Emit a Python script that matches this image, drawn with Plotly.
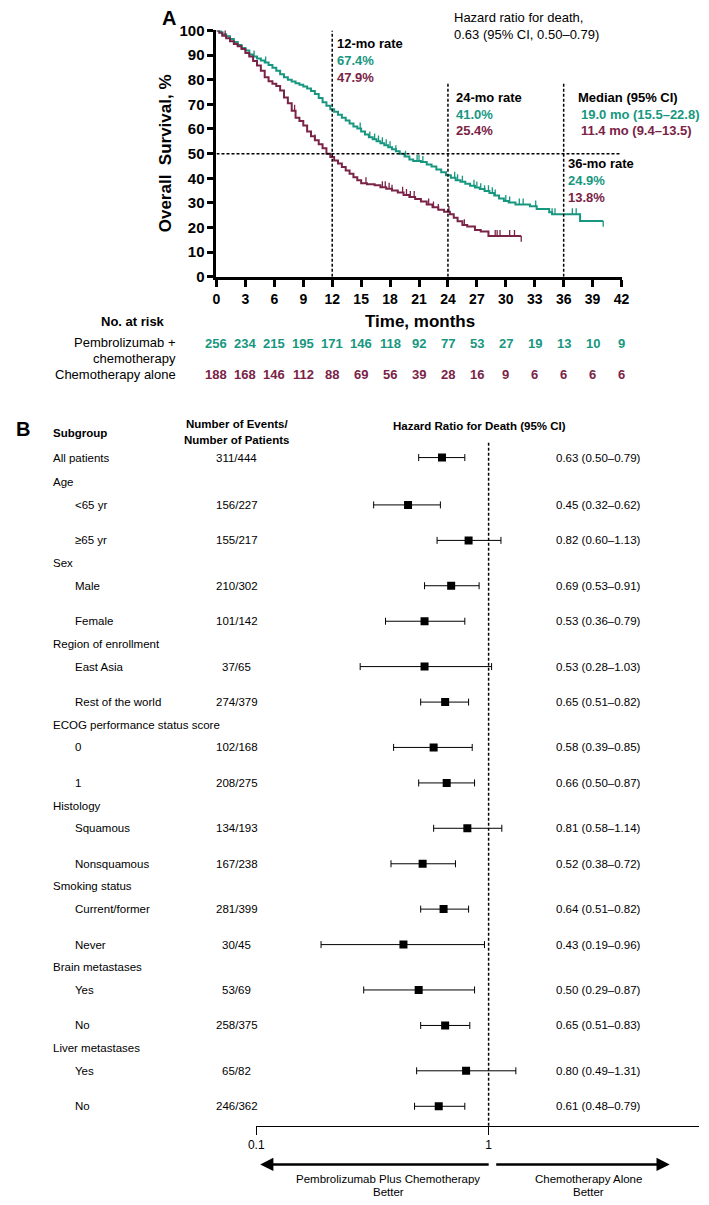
import bisect
import plotly.graph_objects as go

# ---------------- data: Kaplan-Meier (panel A) ----------------
pembro_t = [0, 0.3, 0.6, 1.0, 1.4, 1.8, 2.2, 2.6, 3.0, 3.4, 3.8, 4.2, 4.6, 5.0, 5.4, 5.8, 6.2, 6.6, 7.0, 7.4,
            7.8, 8.2, 8.6, 9.0, 9.4, 9.8, 10.2, 10.6, 11.0, 11.4, 11.8, 12.2, 12.6, 13.0, 13.4, 13.8, 14.2, 14.6, 15.0, 15.4,
            15.8, 16.2, 16.6, 17.0, 17.4, 17.8, 18.2, 18.6, 19.0, 19.5, 20.0, 20.4, 21.2, 21.8, 22.3, 22.8, 23.3, 23.8, 24.3, 24.8,
            25.3, 25.8, 26.3, 26.8, 27.3, 27.8, 28.3, 28.8, 29.3, 29.8, 30.3, 31.0, 32.5, 33.2, 34.5, 34.8, 37.7, 40.1]
pembro_s = [100, 99.2, 98.4, 97.6, 96.5, 95.3, 94.1, 92.9, 91.8, 90.2, 89.4, 88.6, 87.8, 87.0, 86.0, 84.8, 83.6, 82.2, 81.0, 80.0,
            79.3, 78.6, 77.9, 77.2, 76.4, 75.4, 74.2, 72.6, 70.8, 69.4, 68.0, 67.0, 65.8, 64.6, 63.4, 62.2, 61.0, 60.2, 59.0, 57.8,
            56.6, 55.8, 55.0, 54.2, 53.4, 52.6, 51.8, 51.0, 50.0, 48.8, 47.6, 47.0, 46.6, 45.6, 44.8, 43.6, 42.4, 41.2, 40.2, 39.2,
            38.6, 37.8, 37.0, 36.3, 35.6, 34.8, 34.0, 33.0, 31.8, 30.8, 30.2, 29.4, 28.6, 27.5, 26.2, 25.4, 22.7, 22.7]
chemo_t = [0, 0.3, 0.6, 1.0, 1.4, 1.8, 2.2, 2.6, 3.0, 3.4, 3.8, 4.2, 4.6, 5.0, 5.4, 5.8, 6.2, 6.6, 7.0, 7.4,
           7.8, 8.2, 8.6, 9.0, 9.4, 9.8, 10.2, 10.6, 11.0, 11.4, 11.8, 12.2, 12.6, 13.0, 13.4, 13.8, 14.2, 14.6, 15.0, 15.6,
           16.4, 17.0, 17.6, 18.2, 18.8, 19.4, 20.0, 20.6, 21.2, 21.8, 22.4, 23.0, 23.6, 24.2, 24.6, 25.0, 25.5, 26.0, 26.8, 27.4,
           28.2, 31.6]
chemo_s = [100, 99.0, 97.8, 96.8, 95.6, 94.5, 93.6, 92.4, 90.8, 89.4, 87.6, 85.8, 83.6, 81.0, 79.4, 78.4, 77.4, 75.6, 72.8, 70.4,
           67.4, 64.6, 63.2, 61.4, 59.0, 57.0, 55.4, 53.8, 52.2, 50.0, 48.6, 47.2, 46.0, 44.6, 43.2, 41.8, 40.4, 39.2, 38.0, 37.6,
           37.2, 36.4, 35.8, 35.0, 34.2, 33.2, 32.4, 31.6, 30.6, 29.4, 28.2, 27.2, 26.4, 25.4, 24.0, 22.6, 21.0, 20.4, 19.0, 18.4,
           16.6, 16.6]
pembro_censor = [0.5, 3.9, 5.1, 14.9, 15.9, 16.4, 16.8, 17.2, 17.6, 18.0, 18.6, 19.6, 20.8, 21.0, 21.4, 24.7, 25.0, 25.5,
                 26.7, 27.0, 27.4, 27.8, 28.2, 28.6, 28.9, 30.0, 30.4, 31.4, 31.8, 33.1, 34.8, 35.1, 36.9, 37.3]
chemo_censor = [0.9, 8.1, 10.2, 15.5, 17.2, 17.5, 17.9, 18.2, 19.3, 19.7, 20.1, 20.5, 22.0, 22.5, 23.0, 24.1, 25.7,
                28.9, 29.1, 29.4, 30.4, 30.9]

risk_months = [0, 3, 6, 9, 12, 15, 18, 21, 24, 27, 30, 33, 36, 39, 42]
risk_pembro = [256, 234, 215, 195, 171, 146, 118, 92, 77, 53, 27, 19, 13, 10, 9]
risk_chemo = [188, 168, 146, 112, 88, 69, 56, 39, 28, 16, 9, 6, 6, 6, 6]

milestones = [12, 24, 36]
pembro_rates = ["67.4%", "41.0%", "24.9%"]
chemo_rates = ["47.9%", "25.4%", "13.8%"]
median_pembro = "19.0 mo (15.5–22.8)"
median_chemo = "11.4 mo (9.4–13.5)"

# ---------------- data: forest plot (panel B) ----------------
sub_labels = ["All patients", "Age", "<65 yr", "≥65 yr", "Sex", "Male", "Female", "Region of enrollment",
              "East Asia", "Rest of the world", "ECOG performance status score", "0", "1", "Histology",
              "Squamous", "Nonsquamous", "Smoking status", "Current/former", "Never", "Brain metastases",
              "Yes", "No", "Liver metastases", "Yes", "No"]
is_sub = [0, 0, 1, 1, 0, 1, 1, 0, 1, 1, 0, 1, 1, 0, 1, 1, 0, 1, 1, 0, 1, 1, 0, 1, 1]
events = ["311/444", "", "156/227", "155/217", "", "210/302", "101/142", "", "37/65", "274/379", "",
          "102/168", "208/275", "", "134/193", "167/238", "", "281/399", "30/45", "", "53/69", "258/375", "",
          "65/82", "246/362"]
hr = [0.63, None, 0.45, 0.82, None, 0.69, 0.53, None, 0.53, 0.65, None, 0.58, 0.66, None, 0.81, 0.52, None,
      0.64, 0.43, None, 0.50, 0.65, None, 0.80, 0.61]
ci_lo = [0.50, None, 0.32, 0.60, None, 0.53, 0.36, None, 0.28, 0.51, None, 0.39, 0.50, None, 0.58, 0.38, None,
         0.51, 0.19, None, 0.29, 0.51, None, 0.49, 0.48]
ci_hi = [0.79, None, 0.62, 1.13, None, 0.91, 0.79, None, 1.03, 0.82, None, 0.85, 0.87, None, 1.14, 0.72, None,
         0.82, 0.96, None, 0.87, 0.83, None, 1.31, 0.79]

# ---------------- styling ----------------
W, H = 709, 1205
TEAL = "#17977f"
MAROON = "#7a2346"
FONT = "Liberation Sans, Arial, Helvetica, sans-serif"


def px(x):
    return x / W


def py(y):
    return 1 - y / H


def step_at(ts, ss, t):
    i = bisect.bisect_right(ts, t) - 1
    return ss[max(i, 0)]


fig = go.Figure()

# KM curves
for ts, ss, col in [(pembro_t, pembro_s, TEAL), (chemo_t, chemo_s, MAROON)]:
    fig.add_trace(go.Scatter(x=ts, y=ss, mode="lines", line=dict(color=col, width=2, shape="hv"),
                             xaxis="x", yaxis="y", hoverinfo="skip"))

# censor ticks (small vertical marks above the curve)
for ts, ss, cens, col in [(pembro_t, pembro_s, pembro_censor, TEAL), (chemo_t, chemo_s, chemo_censor, MAROON)]:
    xs, ys = [], []
    for c in cens:
        s = step_at(ts, ss, c)
        xs += [c, c, None]
        ys += [s, s + 2.4, None]
    xs += [ts[-1], ts[-1], None]
    ys += [ss[-1], ss[-1] - 2.4, None]
    fig.add_trace(go.Scatter(x=xs, y=ys, mode="lines", line=dict(color=col, width=1.3),
                             xaxis="x", yaxis="y", hoverinfo="skip"))

# Forest plot rows
rows_y = []
y = 455
for i, lab in enumerate(sub_labels):
    if i == 0:
        y = 455
    elif i == 1:
        y += 25
    elif is_sub[i] and is_sub[i - 1]:
        y += 36
    else:
        y += 23
    rows_y.append(y)

fx, fy, eplus, eminus = [], [], [], []
for i in range(len(sub_labels)):
    if hr[i] is not None:
        fx.append(hr[i])
        fy.append(rows_y[i])
        eplus.append(ci_hi[i] - hr[i])
        eminus.append(hr[i] - ci_lo[i])

fig.add_trace(go.Scatter(x=fx, y=fy, mode="markers", xaxis="x2", yaxis="y2",
                         marker=dict(symbol="square", size=8, color="black"),
                         error_x=dict(type="data", symmetric=False, array=eplus, arrayminus=eminus,
                                      color="black", thickness=1, width=3.5),
                         hoverinfo="skip"))

shapes = []
dash_style = "3px,2px"
tops = {12: 100, 24: 79, 36: 79}
for m in milestones:
    shapes.append(dict(type="line", xref="x", yref="y", x0=m, x1=m, y0=0, y1=tops[m],
                       line=dict(color="black", width=1.5, dash=dash_style)))
shapes.append(dict(type="line", xref="x", yref="y", x0=0, x1=42, y0=50, y1=50,
                   line=dict(color="black", width=1.5, dash=dash_style)))
shapes.append(dict(type="line", xref="x2", yref="y2", x0=1, x1=1, y0=440, y1=1133,
                   line=dict(color="black", width=1.5, dash=dash_style)))

ann = []


def txt(x, y, text, size=13, color="black", bold=False, xanchor="left", yanchor="middle",
        xref="paper", yref="paper", angle=0):
    ann.append(dict(x=x, y=y, xref=xref, yref=yref, text=text, showarrow=False,
                    xanchor=xanchor, yanchor=yanchor, textangle=angle,
                    font=dict(family=FONT, size=size, color=color, weight="bold" if bold else "normal")))


# Panel A texts
txt(px(156), py(9), "A", size=20, bold=True)
txt(px(454), py(9), "Hazard ratio for death,", size=13)
txt(px(454), py(26), "0.63 (95% CI, 0.50–0.79)", size=13)
txt(px(162), py(146), "Overall  Survival, %", size=17, bold=True, xanchor="center", angle=-90)
txt(px(422), py(317), "Time, months", size=17, bold=True, xanchor="center")

txt(px(335), py(35), "12-mo rate", bold=True)
txt(px(335), py(52), pembro_rates[0], bold=True, color=TEAL)
txt(px(335), py(69), chemo_rates[0], bold=True, color=MAROON)
txt(px(456), py(90), "24-mo rate", bold=True)
txt(px(456), py(107), pembro_rates[1], bold=True, color=TEAL)
txt(px(456), py(123), chemo_rates[1], bold=True, color=MAROON)
txt(px(581), py(90), "Median (95% CI)", bold=True)
txt(px(584), py(107), median_pembro, bold=True, color=TEAL)
txt(px(584), py(123), median_chemo, bold=True, color=MAROON)
txt(px(571), py(157), "36-mo rate", bold=True)
txt(px(571), py(174), pembro_rates[2], bold=True, color=TEAL)
txt(px(571), py(191), chemo_rates[2], bold=True, color=MAROON)

# number at risk
txt(px(163), py(317), "No. at risk", bold=True, xanchor="right")
txt(px(174), py(338), "Pembrolizumab +", xanchor="right")
txt(px(174), py(354), "chemotherapy", xanchor="right")
txt(px(174), py(371), "Chemotherapy alone", xanchor="right")
for m, a, b in zip(risk_months, risk_pembro, risk_chemo):
    txt(m, py(339), str(a), bold=True, color=TEAL, xanchor="center", xref="x")
    txt(m, py(371), str(b), bold=True, color=MAROON, xanchor="center", xref="x")

# Panel B texts
FS = 11.5
txt(px(6), py(426), "B", size=20, bold=True)
txt(px(44), py(430), "Subgroup", size=FS, bold=True)
txt(px(234), py(421), "Number of Events/", size=FS, bold=True, xanchor="center")
txt(px(234), py(437), "Number of Patients", size=FS, bold=True, xanchor="center")
txt(px(482), py(423), "Hazard Ratio for Death (95% CI)", size=FS, bold=True, xanchor="center")

for i, lab in enumerate(sub_labels):
    yv = rows_y[i]
    txt(px(66 if is_sub[i] else 44), yv, lab, size=FS, yref="y2")
    if events[i]:
        txt(px(234), yv, events[i], size=FS, xanchor="center", yref="y2")
    if hr[i] is not None:
        txt(px(559), yv, f"{hr[i]:.2f} ({ci_lo[i]:.2f}–{ci_hi[i]:.2f})", size=FS, yref="y2")

ann.append(dict(x=px(258), y=py(1172), xref="paper", yref="paper", ax=230, ay=0, text="",
                showarrow=True, arrowhead=2, arrowsize=1.1, arrowwidth=2.4, arrowcolor="black"))
ann.append(dict(x=px(677), y=py(1172), xref="paper", yref="paper", ax=-175, ay=0, text="",
                showarrow=True, arrowhead=2, arrowsize=1.1, arrowwidth=2.4, arrowcolor="black"))
txt(px(389), py(1187), "Pembrolizumab Plus Chemotherapy", size=FS, xanchor="center")
txt(px(389), py(1200), "Better", size=FS, xanchor="center")
txt(px(594), py(1187), "Chemotherapy Alone", size=FS, xanchor="center")
txt(px(594), py(1200), "Better", size=FS, xanchor="center")

fig.update_layout(
    width=W, height=H, margin=dict(l=0, r=0, t=0, b=0),
    paper_bgcolor="white", plot_bgcolor="white", showlegend=False,
    font=dict(family=FONT, color="black"),
    xaxis=dict(domain=[px(213.3), px(627.7)], range=[0, 42], tickvals=risk_months,
               ticks="outside", ticklen=7, tickwidth=3, tickcolor="black",
               showline=True, linewidth=3, linecolor="black", showgrid=False, zeroline=False,
               tickfont=dict(family=FONT, size=14, weight="bold", color="black"), anchor="y"),
    yaxis=dict(domain=[py(271.7), py(21.7)], range=[0, 100], tickvals=list(range(0, 101, 10)),
               ticks="outside", ticklen=6, tickwidth=3, tickcolor="black",
               showline=True, linewidth=3, linecolor="black", showgrid=False, zeroline=False,
               tickfont=dict(family=FONT, size=15, weight="bold", color="black"), anchor="x"),
    xaxis2=dict(domain=[px(254), px(707)], type="log", range=[-1.0001, 0.9058],
                tickvals=[0.1, 1], ticktext=["0.1", "1"], ticks="outside", ticklen=8, tickwidth=1,
                tickcolor="black", showline=True, linewidth=1, linecolor="black", showgrid=False,
                zeroline=False, tickfont=dict(family=FONT, size=12, color="black"), anchor="y2"),
    yaxis2=dict(domain=[py(1133), py(400)], range=[1133, 400], visible=False, anchor="x2"),
    shapes=shapes, annotations=ann,
)

fig.write_html("out.html", config={"displayModeBar": False},
               post_script="document.body.style.margin='0px';document.body.style.overflow='hidden';")
